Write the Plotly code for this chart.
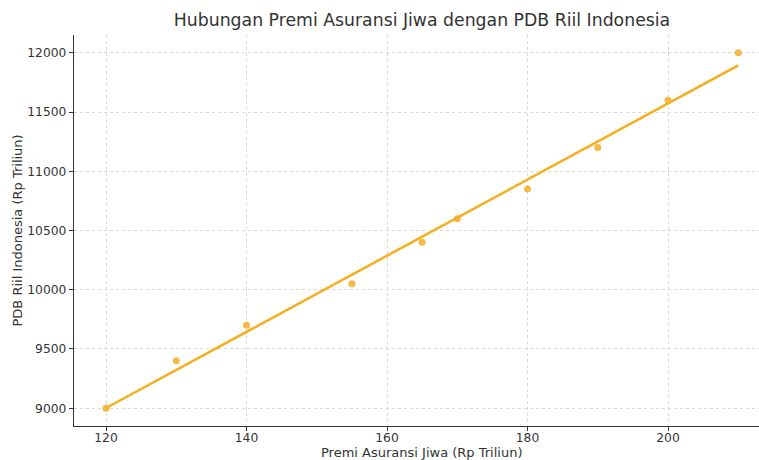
import numpy as np
import plotly.graph_objects as go

premi = [120, 130, 140, 155, 165, 170, 180, 190, 200, 210]
pdb = [9000, 9400, 9700, 10050, 10400, 10600, 10850, 11200, 11600, 12000]

title_text = "Hubungan Premi Asuransi Jiwa dengan PDB Riil Indonesia"
x_title = "Premi Asuransi Jiwa (Rp Triliun)"
y_title = "PDB Riil Indonesia (Rp Triliun)"

slope, intercept = np.polyfit(premi, pdb, 1)
fit_x = [min(premi), max(premi)]
fit_y = [slope * v + intercept for v in fit_x]

W, H = 759, 460
L, R, T, B = 74, 0, 35, 34

fig = go.Figure()
fig.add_trace(go.Scatter(x=premi, y=pdb, mode="markers",
                         marker=dict(color="#F6B132", size=7, opacity=0.9, line=dict(width=0)),
                         showlegend=False))
fig.add_trace(go.Scatter(x=fit_x, y=fit_y, mode="lines",
                         line=dict(color="#F7AE1C", width=2.5), showlegend=False))

font = "DejaVu Sans, sans-serif"
cx = (422 - L) / (W - L - R)
fig.update_layout(
    width=W, height=H,
    margin=dict(l=L, r=R, t=T, b=B, pad=0),
    paper_bgcolor="white", plot_bgcolor="white",
    font=dict(family=font, size=12, color="#333333"),
    title=dict(text=title_text, x=cx, xref="paper", xanchor="center",
               y=1 - 20 / H, yanchor="middle", yref="container",
               font=dict(size=17.3, color="#333333", family=font)),
    xaxis=dict(range=[115.44, 212.95], tickvals=[120, 140, 160, 180, 200], tickformat="d",
               showgrid=True, gridcolor="#d9d9d9", griddash="dot", gridwidth=1,
               zeroline=False, showline=True, linecolor="#333333", linewidth=1.3,
               ticks="outside", ticklen=4, tickcolor="#333333", tickwidth=1.2,
               ticklabelstandoff=-4,
               tickfont=dict(size=12.3, color="#333333"), automargin=False),
    yaxis=dict(range=[8850, 12150], tickvals=[9000, 9500, 10000, 10500, 11000, 11500, 12000],
               tickformat="d",
               showgrid=True, gridcolor="#d9d9d9", griddash="dot", gridwidth=1,
               zeroline=False, showline=True, linecolor="#333333", linewidth=1.3,
               ticks="outside", ticklen=4, tickcolor="#333333", tickwidth=1.2,
               tickfont=dict(size=12.3, color="#333333"), automargin=False),
    annotations=[
        dict(text=x_title, xref="paper", yref="paper", x=cx, y=0,
             yshift=-26, xanchor="center", yanchor="middle", showarrow=False,
             font=dict(size=13, color="#333333", family=font)),
        dict(text=y_title, xref="paper", yref="paper", x=0, y=0.5, xshift=-57,
             textangle=-90, xanchor="center", yanchor="middle", showarrow=False,
             font=dict(size=13, color="#333333", family=font)),
    ],
)

fig.write_html("out.html", config={"displayModeBar": False},
               post_script="document.body.style.margin='0';document.body.style.overflow='hidden';")
